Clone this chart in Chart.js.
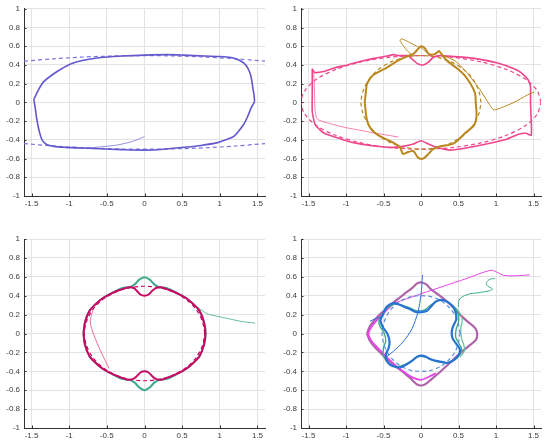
<!DOCTYPE html>
<html>
<head>
<meta charset="utf-8">
<script src="https://cdn.jsdelivr.net/npm/chart.js@4/dist/chart.umd.min.js"></script>
<style>
  html, body { margin: 0; padding: 0; background: #fff; }
  body { width: 548px; height: 445px; position: relative; overflow: hidden; }
  canvas { position: absolute; }
</style>
</head>
<body>
<canvas id="c1" width="274" height="222" style="left:0;top:0"></canvas>
<canvas id="c2" width="274" height="222" style="left:274px;top:0"></canvas>
<canvas id="c3" width="274" height="223" style="left:0;top:222px"></canvas>
<canvas id="c4" width="274" height="223" style="left:274px;top:222px"></canvas>
<script>
// tick labels
const xTicks = [-1.5, -1, -0.5, 0, 0.5, 1, 1.5];
const yTicks = [-1, -0.8, -0.6, -0.4, -0.2, 0, 0.2, 0.4, 0.6, 0.8, 1];

// panel 1 (top left)
const p1DashTop = [[-1.6,0.44],[-1.2,0.466],[-0.8,0.485],[-0.4,0.496],[0,0.5],[0.4,0.496],[0.8,0.485],[1.2,0.466],[1.6,0.44]];
const p1DashBottom = [[-1.6,-0.44],[-1.2,-0.466],[-0.8,-0.485],[-0.4,-0.496],[0,-0.5],[0.4,-0.496],[0.8,-0.485],[1.2,-0.466],[1.6,-0.44]];
const p1Loop = [[-1.47,0.03],[-1.41,0.13],[-1.34,0.22],[-1.16,0.33],[-0.98,0.41],[-0.81,0.45],[-0.58,0.48],[-0.3,0.495],[0,0.505],[0.3,0.51],[0.52,0.505],[0.8,0.495],[1.01,0.49],[1.15,0.48],[1.23,0.46],[1.32,0.42],[1.37,0.37],[1.41,0.29],[1.44,0.15],[1.46,0.01],[1.42,-0.05],[1.37,-0.15],[1.32,-0.23],[1.19,-0.36],[1.08,-0.4],[0.97,-0.43],[0.75,-0.46],[0.52,-0.48],[0.25,-0.5],[0,-0.51],[-0.3,-0.505],[-0.6,-0.495],[-0.9,-0.485],[-1.05,-0.48],[-1.2,-0.47],[-1.3,-0.45],[-1.36,-0.4],[-1.4,-0.3],[-1.43,-0.18],[-1.45,-0.06],[-1.47,0.03]];
const p1Tail = [[0,-0.365],[-0.1,-0.4],[-0.22,-0.43],[-0.36,-0.455],[-0.58,-0.475],[-0.8,-0.49],[-0.95,-0.49]];

// panel 2 (top right)
const p2PinkDash = [[1.6,0],[1.55,0.124],[1.39,0.25],[1.13,0.354],[0.8,0.433],[0.41,0.483],[0,0.5],[-0.41,0.483],[-0.8,0.433],[-1.13,0.354],[-1.39,0.25],[-1.55,0.124],[-1.6,0],[-1.55,-0.124],[-1.39,-0.25],[-1.13,-0.354],[-0.8,-0.433],[-0.41,-0.483],[0,-0.5],[0.41,-0.483],[0.8,-0.433],[1.13,-0.354],[1.39,-0.25],[1.55,-0.124],[1.6,0]];
const p2GoldDash = [[0.8,0],[0.77,0.125],[0.69,0.25],[0.57,0.35],[0.4,0.433],[0.21,0.483],[0,0.5],[-0.21,0.483],[-0.4,0.433],[-0.57,0.35],[-0.69,0.25],[-0.77,0.125],[-0.8,0],[-0.77,-0.125],[-0.69,-0.25],[-0.57,-0.35],[-0.4,-0.433],[-0.21,-0.483],[0,-0.5],[0.21,-0.483],[0.4,-0.433],[0.57,-0.35],[0.69,-0.25],[0.77,-0.125],[0.8,0]];
const p2Pink = [[-1.45,0.36],[-1.42,0.32],[-1.3,0.33],[-1.15,0.37],[-0.98,0.4],[-0.8,0.44],[-0.63,0.47],[-0.45,0.495],[-0.36,0.51],[-0.3,0.5],[-0.18,0.5],[-0.1,0.45],[-0.04,0.41],[0.03,0.4],[0.1,0.43],[0.16,0.48],[0.25,0.5],[0.43,0.49],[0.71,0.47],[1.02,0.42],[1.24,0.36],[1.33,0.32],[1.43,0.24],[1.46,0.17],[1.46,0],[1.47,-0.2],[1.47,-0.35],[1.4,-0.33],[1.3,-0.34],[1.15,-0.39],[0.84,-0.45],[0.65,-0.48],[0.39,-0.51],[0.21,-0.48],[0.1,-0.445],[0,-0.41],[-0.1,-0.445],[-0.24,-0.47],[-0.4,-0.48],[-0.68,-0.46],[-0.9,-0.43],[-1.07,-0.39],[-1.29,-0.33],[-1.41,-0.24],[-1.45,-0.1],[-1.45,0.1],[-1.45,0.36]];
const p2PinkThin = [[-1.43,0.32],[-1.42,0.1],[-1.41,-0.1],[-1.38,-0.18],[-1.2,-0.23],[-1.0,-0.27],[-0.8,-0.3],[-0.6,-0.33],[-0.45,-0.35],[-0.3,-0.37]];
const p2Gold = [[-0.75,0],[-0.73,0.15],[-0.72,0.2],[-0.64,0.29],[-0.46,0.37],[-0.32,0.44],[-0.19,0.49],[-0.1,0.52],[-0.04,0.57],[0,0.6],[0.05,0.58],[0.1,0.52],[0.16,0.51],[0.21,0.53],[0.24,0.55],[0.27,0.52],[0.34,0.45],[0.47,0.37],[0.57,0.3],[0.66,0.2],[0.72,0.1],[0.73,0],[0.74,-0.15],[0.71,-0.24],[0.6,-0.32],[0.43,-0.44],[0.25,-0.47],[0.16,-0.5],[0.1,-0.55],[0.03,-0.6],[-0.04,-0.59],[-0.1,-0.52],[-0.17,-0.53],[-0.24,-0.55],[-0.28,-0.48],[-0.37,-0.43],[-0.55,-0.36],[-0.66,-0.29],[-0.72,-0.19],[-0.75,0]];
const p2GoldFin = [[-0.1,0.5],[-0.17,0.54],[-0.24,0.61],[-0.28,0.66],[-0.26,0.68],[-0.15,0.64],[-0.06,0.6],[0.01,0.58],[0.05,0.55],[0.1,0.52]];
const p2GoldTail = [[0.3,0.5],[0.46,0.44],[0.62,0.31],[0.8,0.12],[0.91,-0.02],[0.97,-0.08],[1.06,-0.06],[1.24,0],[1.42,0.08],[1.51,0.11]];

// panel 3 (bottom left)
const p3Dash = [[0.8,0],[0.77,0.125],[0.69,0.25],[0.57,0.35],[0.4,0.433],[0.21,0.483],[0,0.5],[-0.21,0.483],[-0.4,0.433],[-0.57,0.35],[-0.69,0.25],[-0.77,0.125],[-0.8,0],[-0.77,-0.125],[-0.69,-0.25],[-0.57,-0.35],[-0.4,-0.433],[-0.21,-0.483],[0,-0.5],[0.21,-0.483],[0.4,-0.433],[0.57,-0.35],[0.69,-0.25],[0.77,-0.125],[0.8,0]];
const p3Red = [[-0.81,0],[-0.79,0.12],[-0.73,0.24],[-0.65,0.31],[-0.56,0.37],[-0.45,0.42],[-0.33,0.46],[-0.2,0.49],[-0.14,0.48],[-0.1,0.45],[-0.05,0.41],[0,0.4],[0.05,0.41],[0.1,0.45],[0.15,0.48],[0.22,0.49],[0.33,0.46],[0.45,0.42],[0.56,0.37],[0.65,0.31],[0.73,0.24],[0.79,0.12],[0.81,0],[0.79,-0.12],[0.73,-0.24],[0.65,-0.31],[0.56,-0.37],[0.45,-0.42],[0.33,-0.46],[0.22,-0.49],[0.15,-0.48],[0.1,-0.45],[0.05,-0.41],[0,-0.4],[-0.05,-0.41],[-0.1,-0.45],[-0.15,-0.48],[-0.22,-0.49],[-0.33,-0.46],[-0.45,-0.42],[-0.56,-0.37],[-0.65,-0.31],[-0.73,-0.24],[-0.79,-0.12],[-0.81,0]];
const p3Teal = [[-0.81,0],[-0.79,0.12],[-0.73,0.24],[-0.65,0.31],[-0.56,0.37],[-0.45,0.42],[-0.3,0.48],[-0.2,0.49],[-0.13,0.52],[-0.07,0.57],[0,0.595],[0.07,0.57],[0.13,0.52],[0.2,0.49],[0.3,0.48],[0.45,0.42],[0.56,0.37],[0.65,0.31],[0.73,0.24],[0.79,0.12],[0.81,0],[0.79,-0.12],[0.73,-0.24],[0.65,-0.31],[0.56,-0.37],[0.45,-0.42],[0.3,-0.48],[0.2,-0.49],[0.13,-0.52],[0.07,-0.57],[0,-0.6],[-0.07,-0.57],[-0.13,-0.52],[-0.2,-0.49],[-0.3,-0.48],[-0.45,-0.42],[-0.56,-0.37],[-0.65,-0.31],[-0.73,-0.24],[-0.79,-0.12],[-0.81,0]];
const p3TealTail = [[0.62,0.33],[0.7,0.28],[0.83,0.21],[0.95,0.185],[1.1,0.16],[1.27,0.13],[1.47,0.11]];
const p3PinkTail = [[-0.69,0.24],[-0.72,0.12],[-0.67,-0.02],[-0.58,-0.19],[-0.47,-0.37]];

// panel 4 (bottom right)
const p4Dash = [[0.52,0],[0.5,0.1],[0.45,0.2],[0.37,0.28],[0.26,0.35],[0.13,0.39],[0,0.4],[-0.13,0.39],[-0.26,0.35],[-0.37,0.28],[-0.45,0.2],[-0.5,0.1],[-0.52,0],[-0.5,-0.1],[-0.45,-0.2],[-0.37,-0.28],[-0.26,-0.35],[-0.13,-0.39],[0,-0.4],[0.13,-0.39],[0.26,-0.35],[0.37,-0.28],[0.45,-0.2],[0.5,-0.1],[0.52,0]];
const p4Mauve = [[-0.72,0],[-0.68,0.08],[-0.6,0.16],[-0.48,0.25],[-0.35,0.34],[-0.22,0.42],[-0.12,0.48],[-0.05,0.53],[0.01,0.54],[0.07,0.52],[0.13,0.47],[0.25,0.4],[0.4,0.3],[0.52,0.2],[0.63,0.12],[0.72,0.06],[0.75,0],[0.73,-0.07],[0.64,-0.13],[0.52,-0.21],[0.4,-0.3],[0.25,-0.41],[0.13,-0.49],[0.07,-0.53],[0.01,-0.55],[-0.05,-0.54],[-0.12,-0.49],[-0.22,-0.42],[-0.35,-0.34],[-0.48,-0.25],[-0.6,-0.16],[-0.68,-0.08],[-0.72,0]];
const p4Magenta = [[-0.36,0.32],[-0.47,0.24],[-0.58,0.15],[-0.66,0.07],[-0.7,0],[-0.66,-0.08],[-0.58,-0.15],[-0.47,-0.24],[-0.35,-0.33],[-0.22,-0.41],[-0.1,-0.47],[0,-0.49],[0.1,-0.46],[0.2,-0.42]];
const p4MagentaLine = [[-0.36,0.32],[0,0.42],[0.3,0.5],[0.6,0.58],[0.93,0.67],[1.01,0.65],[1.1,0.615],[1.23,0.61],[1.35,0.615],[1.45,0.62]];
const p4Teal = [[-0.52,0.2],[-0.45,0.27],[-0.36,0.31],[-0.26,0.3],[-0.15,0.27],[-0.05,0.24],[0.05,0.25],[0.13,0.3],[0.22,0.345],[0.3,0.35],[0.38,0.32],[0.45,0.27],[0.5,0.2],[0.5,0.12],[0.47,0.05],[0.46,-0.03],[0.5,-0.1],[0.54,-0.16],[0.52,-0.22],[0.45,-0.28],[0.36,-0.31],[0.26,-0.305],[0.16,-0.285],[0.06,-0.25],[-0.04,-0.245],[-0.12,-0.285],[-0.22,-0.33],[-0.32,-0.35],[-0.42,-0.32],[-0.5,-0.24],[-0.5,-0.15],[-0.47,-0.08],[-0.49,0],[-0.55,0.08],[-0.56,0.14],[-0.52,0.2]];
const p4TealRight = [[0.42,0.3],[0.5,0.24],[0.55,0.15],[0.53,0.05],[0.54,-0.05],[0.57,-0.12],[0.58,-0.18],[0.52,-0.25]];
const p4TealTail = [[0.5,0.28],[0.5,0.33],[0.52,0.37],[0.58,0.4],[0.65,0.42],[0.75,0.43],[0.83,0.44],[0.9,0.45],[0.95,0.465],[0.94,0.48],[0.89,0.5],[0.87,0.53],[0.9,0.565],[0.95,0.58],[0.99,0.58]];
const p4Blue = [[-0.5,0.21],[-0.46,0.28],[-0.38,0.32],[-0.3,0.31],[-0.22,0.28],[-0.15,0.26],[-0.08,0.23],[0,0.225],[0.08,0.24],[0.14,0.29],[0.2,0.34],[0.27,0.355],[0.34,0.34],[0.41,0.3],[0.46,0.23],[0.47,0.15],[0.43,0.08],[0.41,0.02],[0.42,-0.05],[0.47,-0.11],[0.52,-0.17],[0.5,-0.23],[0.44,-0.28],[0.36,-0.31],[0.28,-0.3],[0.2,-0.29],[0.12,-0.27],[0.05,-0.24],[0,-0.235],[-0.06,-0.25],[-0.12,-0.29],[-0.2,-0.33],[-0.28,-0.36],[-0.36,-0.35],[-0.44,-0.31],[-0.47,-0.23],[-0.43,-0.15],[-0.42,-0.08],[-0.45,0],[-0.51,0.07],[-0.54,0.14],[-0.5,0.21]];
const p4BlueThin = [[0.02,0.62],[0.01,0.5],[0,0.41],[-0.04,0.23],[-0.12,0.05],[-0.24,-0.09],[-0.37,-0.19],[-0.46,-0.245]];
const p4BlueStub = [[-0.68,0.13],[-0.6,0.16],[-0.55,0.17]];

const toXY = pts => pts.map(p => ({ x: p[0], y: p[1] }));

function line(pts, color, width, dash, tension) {
    return {
        data: toXY(pts),
        showLine: true,
        borderColor: color,
        borderWidth: width,
        borderDash: dash || [],
        pointRadius: 0,
        tension: tension === undefined ? 0.3 : tension,
        fill: false
    };
}

// MATLAB style ticks pointing inwards
const inwardTicks = {
    id: 'inwardTicks',
    afterDraw(chart) {
        const c = chart.ctx, a = chart.chartArea;
        const xs = chart.scales.x, ys = chart.scales.y;
        c.save();
        c.strokeStyle = '#333';
        c.lineWidth = 1;
        c.beginPath();
        xTicks.forEach(v => {
            const px = Math.round(xs.getPixelForValue(v)) + 0.5;
            c.moveTo(px, a.bottom);
            c.lineTo(px, a.bottom - 2.5);
        });
        yTicks.forEach(v => {
            const py = Math.round(ys.getPixelForValue(v)) + 0.5;
            c.moveTo(a.left, py);
            c.lineTo(a.left + 2.5, py);
        });
        c.stroke();
        c.restore();
    }
};

function makePanel(id, area, datasets) {
    const cv = document.getElementById(id);
    const W = cv.width, H = cv.height;
    new Chart(cv.getContext('2d'), {
        type: 'scatter',
        data: { datasets: datasets },
        plugins: [inwardTicks],
        options: {
            responsive: false,
            animation: false,
            devicePixelRatio: 1,
            layout: { padding: { top: area.top, right: W - area.right, left: 0, bottom: 0 } },
            plugins: { legend: { display: false }, tooltip: { enabled: false } },
            scales: {
                x: {
                    type: 'linear',
                    min: -1.6,
                    max: 1.6,
                    afterBuildTicks: axis => { axis.ticks = xTicks.map(v => ({ value: v })); },
                    afterFit: axis => { axis.height = H - area.bottom; },
                    ticks: {
                        color: '#404040',
                        font: { family: 'Liberation Sans, Arial, sans-serif', size: 8 },
                        padding: 3,
                        maxRotation: 0,
                        autoSkip: false,
                        callback: v => String(v)
                    },
                    grid: { color: '#e3e3e3', lineWidth: 1, drawTicks: false },
                    border: { display: true, color: '#333', width: 1 }
                },
                y: {
                    type: 'linear',
                    min: -1,
                    max: 1,
                    afterBuildTicks: axis => { axis.ticks = yTicks.map(v => ({ value: v })); },
                    afterFit: axis => { axis.width = area.left; },
                    ticks: {
                        color: '#404040',
                        font: { family: 'Liberation Sans, Arial, sans-serif', size: 8 },
                        padding: 4,
                        autoSkip: false,
                        callback: v => String(Math.round(v * 10) / 10)
                    },
                    grid: { color: '#e3e3e3', lineWidth: 1, drawTicks: false },
                    border: { display: true, color: '#333', width: 1 }
                }
            }
        }
    });
}

// first dataset is drawn on top
const purple = 'rgb(100,88,205)';
makePanel('c1', { left: 24, top: 6, right: 265, bottom: 196 }, [
    line(p1Loop, purple, 1.6),
    line(p1Tail, 'rgb(140,130,225)', 0.9),
    line(p1DashTop, 'rgb(125,115,220)', 1.2, [4, 3]),
    line(p1DashBottom, 'rgb(125,115,220)', 1.2, [4, 3])
]);

const pink = 'rgb(240,70,140)', gold = 'rgb(185,135,30)';
makePanel('c2', { left: 27, top: 6, right: 267, bottom: 196 }, [
    line(p2Gold, gold, 2),
    line(p2GoldFin, gold, 1, [], 0.2),
    line(p2GoldTail, gold, 1, [], 0.2),
    line(p2Pink, pink, 1.6, [], 0.15),
    line(p2PinkThin, 'rgb(245,110,165)', 0.9, [], 0.2),
    line(p2GoldDash, gold, 1.2, [4, 3]),
    line(p2PinkDash, pink, 1.2, [4, 3])
]);

const crimson = 'rgb(200,10,100)', teal = 'rgb(60,170,140)';
makePanel('c3', { left: 24, top: 17, right: 265, bottom: 206 }, [
    line(p3Red, crimson, 2),
    line(p3Dash, crimson, 1.2, [4, 3]),
    line(p3PinkTail, 'rgb(230,90,150)', 0.9),
    line(p3Teal, teal, 2),
    line(p3TealTail, 'rgb(100,190,160)', 1)
]);

const blue = 'rgb(40,115,210)', magenta = 'rgb(230,70,230)', mauve = 'rgb(175,100,170)';
makePanel('c4', { left: 27, top: 17, right: 267, bottom: 206 }, [
    line(p4Blue, blue, 2.2),
    line(p4BlueThin, blue, 1),
    line(p4BlueStub, blue, 1),
    line(p4Dash, 'rgb(90,140,220)', 1.2, [4, 3]),
    line(p4Teal, teal, 1.4),
    line(p4TealRight, 'rgb(100,190,160)', 1.2),
    line(p4TealTail, teal, 1),
    line(p4MagentaLine, magenta, 1),
    line(p4Magenta, magenta, 1.8),
    line(p4Mauve, mauve, 2.2)
]);
</script>
</body>
</html>
